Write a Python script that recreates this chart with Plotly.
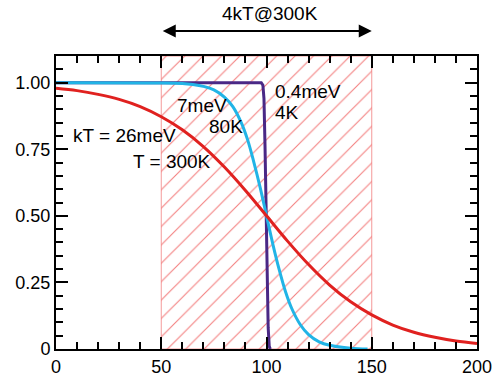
import plotly.graph_objects as go

# Red curve: kT = 26 meV (300 K)
red_x = [0, 10, 20, 30, 40, 50, 60, 70, 80, 90, 100, 110, 120, 130, 140, 150, 160, 170, 180, 190, 200]
red_y = [0.979, 0.970, 0.956, 0.937, 0.910, 0.872, 0.823, 0.760, 0.683, 0.595, 0.500,
         0.405, 0.317, 0.240, 0.177, 0.128, 0.090, 0.063, 0.044, 0.030, 0.021]

# Blue curve: kT = 7 meV (80 K)
blue_x = [0, 50, 60, 65, 70, 75, 80, 84, 88, 91, 94, 97, 100, 103, 106, 109, 112, 116, 120, 125, 130, 140, 148]
blue_y = [1.0, 0.999, 0.997, 0.993, 0.986, 0.973, 0.946, 0.910, 0.850, 0.786, 0.701, 0.606, 0.500,
          0.394, 0.299, 0.216, 0.152, 0.092, 0.054, 0.027, 0.014, 0.003, 0.0]

# Purple curve: kT = 0.4 meV (4 K)
purple_x = [0, 97.5, 98.3, 98.8, 99.3, 99.8, 100.3, 100.8, 101.3, 101.8]
purple_y = [1.0, 1.0, 0.99, 0.94, 0.76, 0.52, 0.28, 0.08, 0.01, 0.0]

# Hatched window (4kT at 300 K)
win_x = [50, 150]
win_top = 1.1

x_ticks = [0, 50, 100, 150, 200]
y_ticks = [0, 0.25, 0.5, 0.75, 1.0]
y_ticktext = ["0", "0.25", "0.50", "0.75", "1.00"]

FONT = "Liberation Sans, Arial, Helvetica, sans-serif"

fig = go.Figure()

fig.add_trace(go.Scatter(
    x=[win_x[0], win_x[1], win_x[1], win_x[0], win_x[0]],
    y=[0, 0, win_top, win_top, 0],
    mode="lines", fill="toself",
    fillcolor="rgba(0,0,0,0)",
    fillpattern=dict(shape="/", fgcolor="rgba(238,70,70,0.7)", bgcolor="rgba(0,0,0,0)",
                     size=13, solidity=0.08, fillmode="replace"),
    line=dict(color="rgba(240,110,110,0.7)", width=1),
    hoverinfo="skip", showlegend=False))

fig.add_trace(go.Scatter(x=purple_x, y=purple_y, mode="lines",
                         line=dict(color="#4a2886", width=3), showlegend=False))
fig.add_trace(go.Scatter(x=blue_x, y=blue_y, mode="lines", line_shape="spline",
                         line=dict(color="#21b4e6", width=3), showlegend=False))
fig.add_trace(go.Scatter(x=red_x, y=red_y, mode="lines", line_shape="spline",
                         line=dict(color="#e0211f", width=3), showlegend=False))

axis_common = dict(showgrid=False, zeroline=False, showline=True, linecolor="black",
                   linewidth=2, mirror="ticks", ticks="inside", tickcolor="black",
                   tickwidth=2, ticklen=12, automargin=False,
                   tickfont=dict(family=FONT, size=18, color="black"))

fig.update_xaxes(range=[0, 200], tickvals=x_ticks, ticktext=[str(v) for v in x_ticks],
                 minor=dict(dtick=10, ticks="inside", ticklen=7, tickwidth=2, tickcolor="black"),
                 **axis_common)
fig.update_yaxes(range=[0, 1.1], tickvals=y_ticks, ticktext=y_ticktext,
                 minor=dict(dtick=0.05, ticks="inside", ticklen=7, tickwidth=2, tickcolor="black"),
                 **axis_common)

ann_font = dict(family=FONT, size=19, color="black")
annotations = [
    dict(x=150, y=1.085, ax=50, ay=1.085, axref="x", ayref="y domain", xref="x", yref="y domain",
         showarrow=True, arrowside="end+start", arrowhead=2, arrowsize=1.3, arrowwidth=2,
         arrowcolor="black", text="", standoff=0, startstandoff=0),
    dict(x=101.7, y=1.146, xref="x", yref="y domain", yanchor="middle", text="4kT@300K",
         showarrow=False, font=ann_font),
    dict(x=7.0, y=0.80, text="kT = 26meV", showarrow=False, font=ann_font, xanchor="left", yanchor="middle"),
    dict(x=35.5, y=0.705, text="T = 300K", showarrow=False, font=ann_font, xanchor="left", yanchor="middle"),
    dict(x=56.5, y=0.916, text="7meV", showarrow=False, font=ann_font, xanchor="left", yanchor="middle"),
    dict(x=71.5, y=0.834, text="80K", showarrow=False, font=ann_font, xanchor="left", yanchor="middle"),
    dict(x=102.9, y=0.966, text="0.4meV", showarrow=False, font=ann_font, xanchor="left", yanchor="middle"),
    dict(x=102.9, y=0.888, text="4K", showarrow=False, font=ann_font, xanchor="left", yanchor="middle"),
]
fig.update_layout(
    width=497, height=378,
    margin=dict(l=56, r=20, t=56, b=29),
    paper_bgcolor="white", plot_bgcolor="white",
    annotations=annotations, showlegend=False,
    font=dict(family=FONT, size=18, color="black"),
)

fig.write_html("out.html")
